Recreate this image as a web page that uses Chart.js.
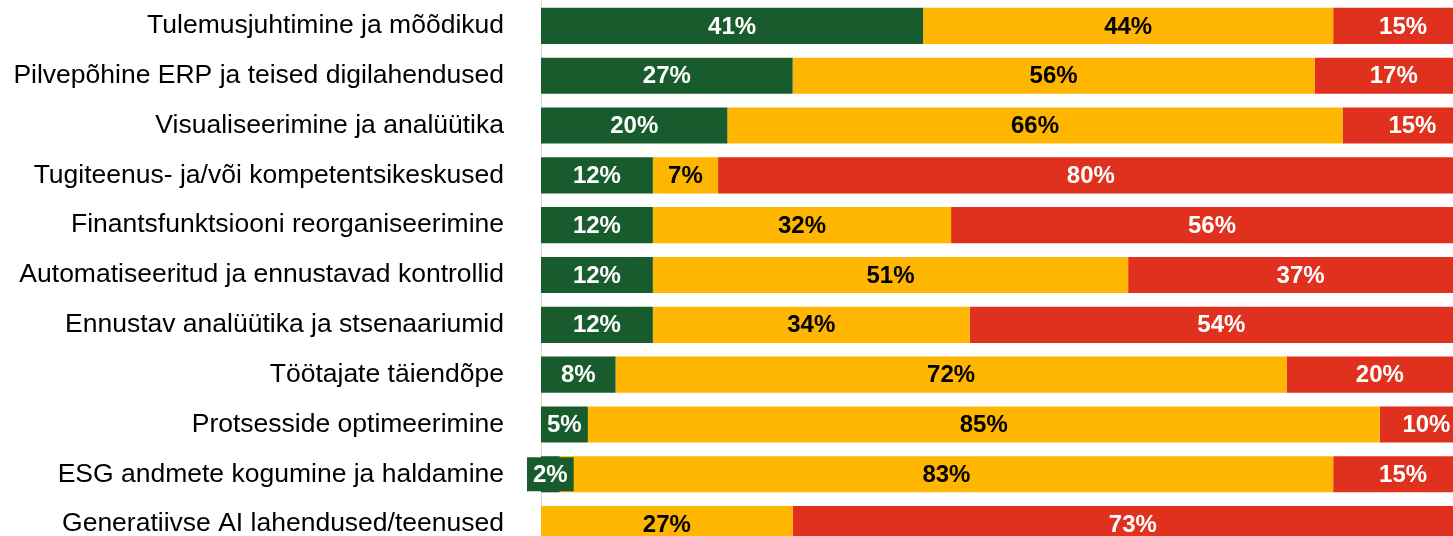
<!DOCTYPE html>
<html>
<head>
<meta charset="utf-8">
<script src="https://cdn.jsdelivr.net/npm/chart.js@4.4.1/dist/chart.umd.min.js"></script>
<style>
  html, body { margin: 0; padding: 0; background: #fff; }
  #wrap { width: 1453px; height: 536px; overflow: hidden; }
</style>
</head>
<body>
<div id="wrap">
  <canvas id="Oskused-Chart" width="1473" height="549"></canvas>
</div>
<script>
const labels = [
  "Tulemusjuhtimine ja mõõdikud",
  "Pilvepõhine ERP ja teised digilahendused",
  "Visualiseerimine ja analüütika",
  "Tugiteenus- ja/või kompetentsikeskused",
  "Finantsfunktsiooni reorganiseerimine",
  "Automatiseeritud ja ennustavad kontrollid",
  "Ennustav analüütika ja stsenaariumid",
  "Töötajate täiendõpe",
  "Protsesside optimeerimine",
  "ESG andmete kogumine ja haldamine",
  "Generatiivse AI lahendused/teenused"
];

const greenValues = [41, 27, 20, 12, 12, 12, 12, 8, 5, 2, 0];
const yellowValues = [44, 56, 66, 7, 32, 51, 34, 72, 85, 83, 27];
const redValues = [15, 17, 15, 80, 56, 37, 54, 20, 10, 15, 73];

const data = {
  labels: labels,
  datasets: [
    { data: greenValues, backgroundColor: "#185C2E", labelColor: "#ffffff" },
    { data: yellowValues, backgroundColor: "#FFB600", labelColor: "#000000" },
    { data: redValues, backgroundColor: "#E0301E", labelColor: "#ffffff" }
  ]
};

// labels in the middle of each bar, with a box in the bar colour
const barLabels = {
  id: "barLabels",
  afterDatasetsDraw(chart) {
    const ctx = chart.ctx;
    ctx.save();
    ctx.font = "bold 24px 'Liberation Sans', Arial, sans-serif";
    ctx.textAlign = "center";
    ctx.textBaseline = "middle";
    chart.data.datasets.forEach((ds, i) => {
      chart.getDatasetMeta(i).data.forEach((bar, j) => {
        const v = ds.data[j];
        if (!v) return;
        const txt = v + "%";
        const x = (bar.x + bar.base) / 2;
        const w = ctx.measureText(txt).width + 12;
        ctx.fillStyle = ds.backgroundColor;
        ctx.fillRect(x - w / 2, bar.y - 17, w, 34);
        ctx.fillStyle = ds.labelColor;
        ctx.fillText(txt, x, bar.y + 1);
      });
    });
    ctx.restore();
  }
};

const config = {
  type: "bar",
  data: data,
  plugins: [barLabels],
  options: {
    indexAxis: "y",
    responsive: false,
    animation: false,
    layout: { padding: { top: 1 } },
    datasets: {
      bar: { barPercentage: 0.725, categoryPercentage: 1, borderWidth: 0 }
    },
    scales: {
      x: { stacked: true, display: false, min: 0, max: 100 },
      y: {
        stacked: true,
        grid: { display: false, drawTicks: false },
        border: { display: true, color: "#d9d9d9", width: 1 },
        ticks: {
          color: "#000000",
          padding: 37,
          font: { family: "'Liberation Sans', Arial, sans-serif", size: 26.5 }
        },
        afterFit(scale) {
          scale.width = 541;
          scale.paddingTop = 0;
          scale.paddingBottom = 0;
        }
      }
    },
    plugins: {
      legend: { display: false },
      tooltip: { enabled: false }
    }
  }
};

let myChart = new Chart(document.getElementById("Oskused-Chart"), config);
</script>
</body>
</html>
